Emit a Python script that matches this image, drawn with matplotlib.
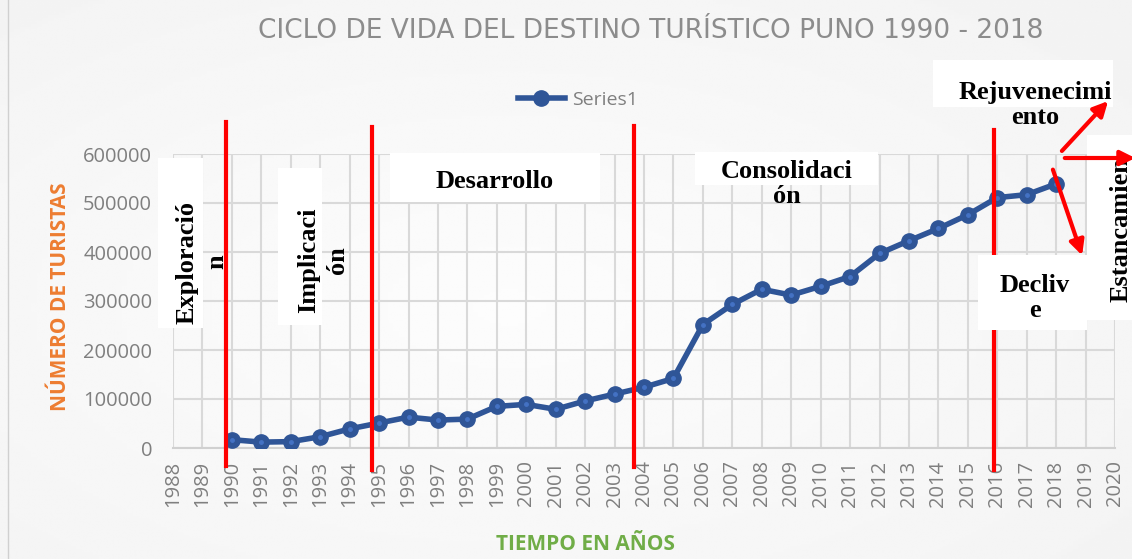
import matplotlib
matplotlib.use("Agg")
import matplotlib.pyplot as plt
import numpy as np
from matplotlib.patches import Rectangle, FancyArrowPatch

years = list(range(1990, 2019))
tourists = [17000, 12000, 13000, 23000, 39000, 51000, 63000, 57000, 59000, 85000,
            89000, 79000, 96000, 110000, 124000, 142000, 252000, 293000, 324000, 312000,
            330000, 350000, 397000, 423000, 448000, 476000, 511000, 517000, 539000]
xtick_years = list(range(1988, 2021))
yticks = [0, 100000, 200000, 300000, 400000, 500000, 600000]
phase_lines = [1989.8, 1994.75, 2003.65, 2015.9]

W, H = 1132, 559
fig = plt.figure(figsize=(W / 100, H / 100), dpi=100)
fig.patch.set_facecolor("#f6f6f6")

# background gradient
bg = fig.add_axes([0, 0, 1, 1], zorder=-10)
yy, xx = np.mgrid[0:1:200j, 0:1:200j]
grad = 0.99 - 0.05 * (np.sqrt((xx - 0.45) ** 2 + (yy - 0.55) ** 2))
bg.imshow(grad, cmap="gray", vmin=0, vmax=1, aspect="auto", extent=[0, 1, 0, 1])
bg.set_axis_off()
bg.add_patch(Rectangle((8 / W, -0.01), 1, 1.02, fill=False, edgecolor="#d0d0d0", lw=1,
                       transform=bg.transAxes))

def fx(px):
    return px / W

def fy(py):
    return 1 - py / H

ax_l, ax_r, ax_t, ax_b = 173, 1115, 154, 448
ax = fig.add_axes([fx(ax_l), fy(ax_b), (ax_r - ax_l) / W, (ax_b - ax_t) / H])
ax.set_facecolor("none")
ax.set_xlim(1988, 2020)
ax.set_ylim(0, 600000)
ax.set_xticks(xtick_years)
ax.set_xticklabels([str(y) for y in xtick_years], rotation=90, fontsize=14.5,
                   color="#7f7f7f", fontfamily="Open Sans")
ax.set_yticks(yticks)
ax.set_yticklabels([str(v) for v in yticks], fontsize=14.5, color="#7f7f7f",
                   fontfamily="Open Sans")
ax.grid(True, color="#d9d9d9", lw=1.5)
ax.set_axisbelow(True)
for s in ["top", "right", "left"]:
    ax.spines[s].set_visible(False)
ax.spines["bottom"].set_color("#d0d0d0")
ax.spines["bottom"].set_linewidth(1.5)
ax.tick_params(axis="x", length=0, pad=9)
ax.tick_params(axis="y", length=0, pad=15)

ax.plot(years, tourists, color="#2f5597", lw=4, marker="o", markersize=11,
        markerfacecolor="#2f5597", markeredgecolor="#2f5597", label="Series1", zorder=5)
ax.plot(years, tourists, ls="none", marker="o", markersize=2.5, color="#4472c4", zorder=6)

leg = ax.legend(loc="center", bbox_to_anchor=((578 - ax_l) / (ax_r - ax_l),
                                              (ax_b - 100) / (ax_b - ax_t)),
                frameon=False, prop={"family": "Open Sans", "size": 14},
                handlelength=2.4, handletextpad=0.4)
for t in leg.get_texts():
    t.set_color("#7f7f7f")

fig.text(fx(60), fy(297), "NÚMERO DE TURISTAS", color="#ed7d31", fontsize=15,
         fontweight="bold", fontfamily="Open Sans", ha="center", va="center", rotation=90)
fig.text(fx(585), fy(545), "TIEMPO EN AÑOS", color="#70ad47", fontsize=15,
         fontweight="bold", fontfamily="Open Sans", ha="center", va="center")

fig.text(fx(651), fy(31), "CICLO DE VIDA DEL DESTINO TURÍSTICO PUNO 1990 - 2018",
         color="#8c8c8c", fontsize=19, fontfamily="DejaVu Sans", ha="center", va="center")

# phase lines
tops = [665000, 655000, 658000, 650000]
bots = [-37000, -45000, -39000, -45000]
for xv, t, b in zip(phase_lines, tops, bots):
    ax.plot([xv, xv], [b, t], color="#ff0000", lw=3, clip_on=False, zorder=8)

# white text boxes
boxes = [(158, 158, 203, 328), (278, 168, 322, 325), (390, 153, 600, 202),
         (695, 152, 878, 185), (933, 60, 1113, 107), (978, 255, 1087, 330),
         (1087, 135, 1132, 320)]
for x0, y0, x1, y1 in boxes:
    fig.patches.append(Rectangle((fx(x0), fy(y1)), (x1 - x0) / W, (y1 - y0) / H,
                                 facecolor="white", edgecolor="none",
                                 transform=fig.transFigure, zorder=3))

serif = dict(fontfamily="Liberation Serif", fontweight="bold", fontsize=19,
             color="black", zorder=10)
fig.text(fx(202), fy(262), "Exploració\nn", rotation=90, ha="center", va="center",
         multialignment="center", linespacing=1.35, **serif)
fig.text(fx(323), fy(260), "Implicaci\nón", rotation=90, ha="center", va="center",
         multialignment="center", linespacing=1.3, **serif)
fig.text(fx(495), fy(181), "Desarrollo", ha="center", va="center", **serif)
fig.text(fx(787), fy(184), "Consolidaci\nón", ha="center", va="center",
         multialignment="center", linespacing=1.15, **serif)
fig.text(fx(1035), fy(105), "Rejuvenecimi\nento", ha="center", va="center",
         multialignment="center", linespacing=1.15, **serif)
fig.text(fx(1035), fy(298), "Decliv\ne", ha="center", va="center",
         multialignment="center", linespacing=1.15, **serif)
fig.text(fx(1121), fy(230), "Estancamien", rotation=90, ha="center", va="center", **serif)

# arrows
arrows = [((1060, 153), (1110, 99)), ((1062, 158), (1138, 158)), ((1052, 167), (1083, 258))]
for (x0, y0), (x1, y1) in arrows:
    fig.patches.append(FancyArrowPatch((fx(x0), fy(y0)), (fx(x1), fy(y1)),
                                       transform=fig.transFigure, arrowstyle="-|>",
                                       mutation_scale=22, color="#ff0000", lw=3,
                                       zorder=11))

fig.savefig("out.png", dpi=100, facecolor=fig.get_facecolor())
